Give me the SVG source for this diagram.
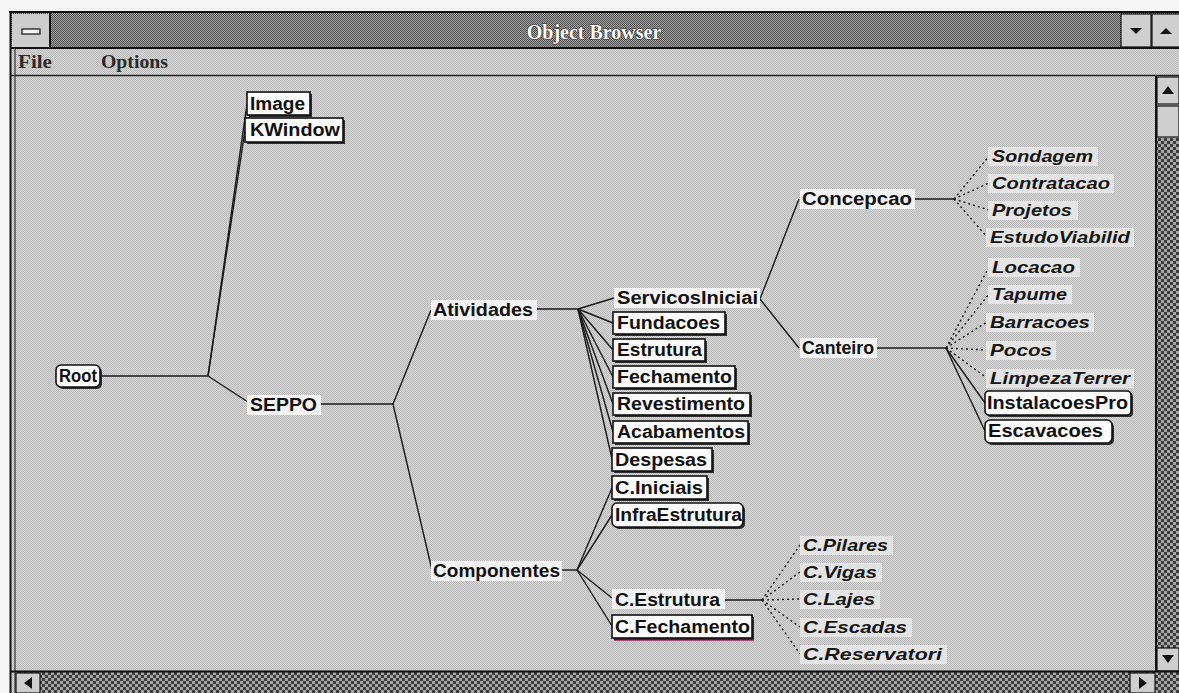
<svg xmlns="http://www.w3.org/2000/svg" width="1179" height="693" viewBox="0 0 1179 693">
  <defs>
    <!-- dithered greys of the window surfaces -->
    <pattern id="ditherLight" width="2" height="2" patternUnits="userSpaceOnUse">
      <rect width="2" height="2" fill="#d8d8d8"/>
      <rect width="1" height="1" fill="#b9b9b9"/>
      <rect x="1" y="1" width="1" height="1" fill="#b9b9b9"/>
    </pattern>
    <pattern id="ditherTitle" width="2" height="2" patternUnits="userSpaceOnUse">
      <rect width="2" height="2" fill="#a9a9a9"/>
      <rect width="1" height="1" fill="#4a4a4a"/>
      <rect x="1" y="1" width="1" height="1" fill="#4a4a4a"/>
    </pattern>
    <pattern id="ditherTrack" width="6" height="6" patternUnits="userSpaceOnUse">
      <rect width="6" height="6" fill="#a6a6a6"/>
      <rect width="3" height="3" fill="#3c3c3c"/>
      <rect x="3" y="3" width="3" height="3" fill="#3c3c3c"/>
    </pattern>
    <style>
      .lbl { font-family: "Liberation Sans", Arial, sans-serif; font-weight: bold; font-size: 18px; fill: #111; }
      .leaf { font-family: "Liberation Sans", Arial, sans-serif; font-weight: bold; font-style: italic; font-size: 17px; fill: #151515; }
      .menu { font-family: "Liberation Serif", "Times New Roman", serif; font-weight: bold; font-size: 19px; fill: #2a2a2a; }
      .title { font-family: "Liberation Serif", "Times New Roman", serif; font-weight: bold; font-size: 20px; fill: #ffffff; stroke: #303030; stroke-width: 1.2; paint-order: stroke; }
      .box { fill: #fbfbfb; stroke: #111; stroke-width: 1.6; }
      .shadow { fill: #2e2e2e; }
      .hl { fill: #f3f3f3; }
      .hli { fill: #e4e4e4; }
      .ln { stroke: #1a1a1a; stroke-width: 1.4; fill: none; }
      .dl { stroke: #1a1a1a; stroke-width: 1.4; fill: none; stroke-dasharray: 2 3; }
      .btn { fill: #cfcfcf; stroke: #111; stroke-width: 1.2; }
      .edge { stroke: #111; stroke-width: 2; fill: none; }
    </style>
  </defs>

  <!-- desktop behind the window -->
  <rect width="1179" height="693" fill="#f6f6f6"/>

  <!-- window frame and chrome -->
  <g id="window">
    <rect x="10" y="12" width="1169" height="681" fill="url(#ditherLight)"/>
    <!-- title bar -->
    <rect x="10" y="12" width="1169" height="36" fill="url(#ditherTitle)"/>
    <line x1="9" y1="12" x2="1179" y2="12" class="edge"/>
    <line x1="10" y1="48" x2="1179" y2="48" class="edge"/>
    <!-- system menu box -->
    <rect x="12" y="14" width="38" height="33" fill="#cdcdcd"/>
    <line x1="50" y1="13" x2="50" y2="48" class="edge"/>
    <rect x="22" y="29" width="18" height="5" fill="#f4f4f4" stroke="#111" stroke-width="1.2"/>
    <text x="594" y="39" text-anchor="middle" class="title">Object Browser</text>
    <!-- minimise / maximise buttons -->
    <rect x="1121" y="14" width="30" height="33" class="btn"/>
    <rect x="1152" y="14" width="28" height="33" class="btn"/>
    <polygon points="1130,28 1142,28 1136,34" fill="#111"/>
    <polygon points="1160,34 1172,34 1166,28" fill="#111"/>
    <!-- menu bar -->
    <text x="18" y="68" class="menu" textLength="34" lengthAdjust="spacingAndGlyphs">File</text>
    <text x="101" y="68" class="menu" textLength="67" lengthAdjust="spacingAndGlyphs">Options</text>
    <line x1="10" y1="75.5" x2="1179" y2="75.5" stroke="#222" stroke-width="1.5"/>
    <!-- left double border -->
    <line x1="10.5" y1="12" x2="10.5" y2="693" class="edge"/>
    <line x1="15" y1="48" x2="15" y2="693" stroke="#333" stroke-width="1.2"/>
    <!-- vertical scroll bar -->
    <rect x="1156" y="138" width="23" height="510" fill="url(#ditherTrack)"/>
    <line x1="1156" y1="76" x2="1156" y2="693" class="edge"/>
    <rect x="1157" y="77" width="22" height="27" class="btn"/>
    <polygon points="1162,94 1174,94 1168,86" fill="#111"/>
    <rect x="1157" y="106" width="22" height="31" class="btn"/>
    <rect x="1157" y="648" width="22" height="23" class="btn"/>
    <polygon points="1162,655 1174,655 1168,663" fill="#111"/>
    <!-- horizontal scroll bar -->
    <rect x="16" y="672" width="1163" height="21" fill="url(#ditherTrack)"/>
    <line x1="10" y1="671.5" x2="1179" y2="671.5" class="edge"/>
    <rect x="16" y="673" width="24" height="20" class="btn"/>
    <polygon points="24,683 32,677 32,689" fill="#111"/>
    <rect x="1130" y="673" width="25" height="20" class="btn"/>
    <polygon points="1147,683 1139,677 1139,689" fill="#111"/>
  </g>

  <!-- tree connectors -->
  <g id="connectors">
    <line x1="100" y1="376" x2="208" y2="376" class="ln"/>
    <line x1="208" y1="376" x2="247" y2="104" class="ln"/>
    <line x1="208" y1="376" x2="245" y2="130" class="ln"/>
    <line x1="208" y1="376" x2="248" y2="402" class="ln"/>
    <line x1="321" y1="404" x2="393" y2="404" class="ln"/>
    <line x1="393" y1="404" x2="431" y2="310" class="ln"/>
    <line x1="393" y1="404" x2="432" y2="570" class="ln"/>
    <!-- Atividades fan -->
    <line x1="537" y1="309" x2="578" y2="309" class="ln"/>
    <line x1="578" y1="309" x2="614" y2="298" class="ln"/>
    <line x1="578" y1="309" x2="613" y2="323" class="ln"/>
    <line x1="578" y1="309" x2="613" y2="350" class="ln"/>
    <line x1="578" y1="309" x2="613" y2="377" class="ln"/>
    <line x1="578" y1="309" x2="613" y2="404" class="ln"/>
    <line x1="578" y1="309" x2="613" y2="432" class="ln"/>
    <line x1="578" y1="309" x2="612" y2="459" class="ln"/>
    <!-- ServicosIniciai branches -->
    <line x1="760" y1="299" x2="799" y2="199" class="ln"/>
    <line x1="760" y1="299" x2="799" y2="348" class="ln"/>
    <line x1="915" y1="199" x2="954" y2="199" class="ln"/>
    <line x1="954" y1="199" x2="989" y2="156" class="dl"/>
    <line x1="954" y1="199" x2="989" y2="183" class="dl"/>
    <line x1="954" y1="199" x2="989" y2="210" class="dl"/>
    <line x1="954" y1="199" x2="987" y2="237" class="dl"/>
    <line x1="877" y1="348" x2="946" y2="348" class="ln"/>
    <line x1="946" y1="348" x2="989" y2="267" class="dl"/>
    <line x1="946" y1="348" x2="989" y2="294" class="dl"/>
    <line x1="946" y1="348" x2="987" y2="322" class="dl"/>
    <line x1="946" y1="348" x2="987" y2="350" class="dl"/>
    <line x1="946" y1="348" x2="987" y2="378" class="dl"/>
    <line x1="946" y1="348" x2="985" y2="403" class="ln"/>
    <line x1="946" y1="348" x2="985" y2="431" class="ln"/>
    <!-- Componentes fan -->
    <line x1="562" y1="570" x2="577" y2="570" class="ln"/>
    <line x1="577" y1="570" x2="612" y2="488" class="ln"/>
    <line x1="577" y1="570" x2="612" y2="515" class="ln"/>
    <line x1="577" y1="570" x2="612" y2="598" class="ln"/>
    <line x1="577" y1="570" x2="612" y2="626" class="ln"/>
    <line x1="725" y1="600" x2="762" y2="600" class="ln"/>
    <line x1="762" y1="600" x2="800" y2="545" class="dl"/>
    <line x1="762" y1="600" x2="800" y2="572" class="dl"/>
    <line x1="762" y1="600" x2="800" y2="599" class="dl"/>
    <line x1="762" y1="600" x2="800" y2="627" class="dl"/>
    <line x1="762" y1="600" x2="800" y2="654" class="dl"/>
  </g>

  <!-- boxed class nodes -->
  <g id="node-root"><rect x="58" y="367" width="44" height="22" rx="5" class="shadow"/><rect x="56" y="365" width="44" height="22" rx="5" class="box"/><text x="59" y="382" class="lbl" textLength="38" lengthAdjust="spacingAndGlyphs">Root</text></g>
  <g id="node-image"><rect x="249" y="94" width="63" height="23" class="shadow"/><rect x="247" y="92" width="63" height="23" class="box"/><text x="250" y="110" class="lbl" textLength="55" lengthAdjust="spacingAndGlyphs">Image</text></g>
  <g id="node-kwindow"><rect x="247" y="120" width="98" height="24" class="shadow"/><rect x="245" y="118" width="98" height="24" class="box"/><text x="250" y="136" class="lbl" textLength="90" lengthAdjust="spacingAndGlyphs">KWindow</text></g>

  <!-- highlighted plain nodes -->
  <g id="node-seppo"><rect x="247" y="395" width="74" height="20" class="hl"/><text x="250" y="411" class="lbl" textLength="67" lengthAdjust="spacingAndGlyphs">SEPPO</text></g>
  <g id="node-atividades"><rect x="431" y="300" width="106" height="20" class="hl"/><text x="433" y="316" class="lbl" textLength="100" lengthAdjust="spacingAndGlyphs">Atividades</text></g>
  <g id="node-componentes"><rect x="431" y="561" width="131" height="20" class="hl"/><text x="433" y="577" class="lbl" textLength="127" lengthAdjust="spacingAndGlyphs">Componentes</text></g>
  <g id="node-servicosiniciai"><rect x="614" y="288" width="146" height="20" class="hl"/><text x="617" y="304" class="lbl" textLength="141" lengthAdjust="spacingAndGlyphs">ServicosIniciai</text></g>
  <g id="node-concepcao"><rect x="800" y="189" width="115" height="20" class="hl"/><text x="802" y="205" class="lbl" textLength="110" lengthAdjust="spacingAndGlyphs">Concepcao</text></g>
  <g id="node-canteiro"><rect x="800" y="338" width="77" height="20" class="hl"/><text x="802" y="354" class="lbl" textLength="72" lengthAdjust="spacingAndGlyphs">Canteiro</text></g>
  <g id="node-cestrutura"><rect x="612" y="589" width="113" height="20" class="hl"/><text x="615" y="606" class="lbl" textLength="105" lengthAdjust="spacingAndGlyphs">C.Estrutura</text></g>

  <!-- Atividades children -->
  <g id="node-fundacoes"><rect x="615" y="314" width="112" height="22" class="shadow"/><rect x="613" y="312" width="112" height="22" class="box"/><text x="617" y="329" class="lbl" textLength="103" lengthAdjust="spacingAndGlyphs">Fundacoes</text></g>
  <g id="node-estrutura"><rect x="615" y="341" width="92" height="22" class="shadow"/><rect x="613" y="339" width="92" height="22" class="box"/><text x="617" y="356" class="lbl" textLength="85" lengthAdjust="spacingAndGlyphs">Estrutura</text></g>
  <g id="node-fechamento"><rect x="615" y="368" width="122" height="22" class="shadow"/><rect x="613" y="366" width="122" height="22" class="box"/><text x="617" y="383" class="lbl" textLength="115" lengthAdjust="spacingAndGlyphs">Fechamento</text></g>
  <g id="node-revestimento"><rect x="615" y="395" width="137" height="22" class="shadow"/><rect x="613" y="393" width="137" height="22" class="box"/><text x="617" y="410" class="lbl" textLength="128" lengthAdjust="spacingAndGlyphs">Revestimento</text></g>
  <g id="node-acabamentos"><rect x="615" y="423" width="135" height="22" class="shadow"/><rect x="613" y="421" width="135" height="22" class="box"/><text x="617" y="438" class="lbl" textLength="128" lengthAdjust="spacingAndGlyphs">Acabamentos</text></g>
  <g id="node-despesas"><rect x="614" y="450" width="100" height="23" class="shadow"/><rect x="612" y="448" width="100" height="23" class="box"/><text x="615" y="466" class="lbl" textLength="92" lengthAdjust="spacingAndGlyphs">Despesas</text></g>

  <!-- Componentes children -->
  <g id="node-ciniciais"><rect x="614" y="478" width="95" height="23" class="shadow"/><rect x="612" y="476" width="95" height="23" class="box"/><text x="615" y="494" class="lbl" textLength="88" lengthAdjust="spacingAndGlyphs">C.Iniciais</text></g>
  <g id="node-infraestrutura"><rect x="614" y="505" width="131" height="24" rx="5" class="shadow"/><rect x="612" y="503" width="131" height="24" rx="5" class="box"/><text x="615" y="521" class="lbl" textLength="127" lengthAdjust="spacingAndGlyphs">InfraEstrutura</text></g>
  <g id="node-cfechamento"><rect x="614" y="617" width="140" height="23" class="shadow"/><rect x="612" y="615" width="140" height="23" class="box"/><line x1="614" y1="640.5" x2="754" y2="640.5" stroke="#b84a78" stroke-width="1.2"/><text x="615" y="633" class="lbl" textLength="135" lengthAdjust="spacingAndGlyphs">C.Fechamento</text></g>

  <!-- Canteiro boxed children -->
  <g id="node-instalacoespro"><rect x="987" y="393" width="146" height="24" rx="4" class="shadow"/><rect x="985" y="391" width="146" height="24" rx="4" class="box"/><text x="987" y="409" class="lbl" textLength="141" lengthAdjust="spacingAndGlyphs">InstalacoesPro</text></g>
  <g id="node-escavacoes"><rect x="987" y="422" width="127" height="23" rx="5" class="shadow"/><rect x="985" y="420" width="127" height="23" rx="5" class="box"/><text x="988" y="437" class="lbl" textLength="115" lengthAdjust="spacingAndGlyphs">Escavacoes</text></g>

  <!-- instance leaves (italic) -->
  <g id="node-sondagem"><rect x="988" y="147" width="110" height="19" class="hli"/><text x="992" y="162" class="leaf" textLength="101" lengthAdjust="spacingAndGlyphs">Sondagem</text></g>
  <g id="node-contratacao"><rect x="988" y="174" width="126" height="19" class="hli"/><text x="992" y="189" class="leaf" textLength="118" lengthAdjust="spacingAndGlyphs">Contratacao</text></g>
  <g id="node-projetos"><rect x="988" y="201" width="90" height="19" class="hli"/><text x="992" y="216" class="leaf" textLength="80" lengthAdjust="spacingAndGlyphs">Projetos</text></g>
  <g id="node-estudoviabilid"><rect x="986" y="228" width="148" height="19" class="hli"/><text x="990" y="243" class="leaf" textLength="140" lengthAdjust="spacingAndGlyphs">EstudoViabilid</text></g>
  <g id="node-locacao"><rect x="988" y="258" width="92" height="19" class="hli"/><text x="992" y="273" class="leaf" textLength="83" lengthAdjust="spacingAndGlyphs">Locacao</text></g>
  <g id="node-tapume"><rect x="988" y="285" width="84" height="19" class="hli"/><text x="992" y="300" class="leaf" textLength="75" lengthAdjust="spacingAndGlyphs">Tapume</text></g>
  <g id="node-barracoes"><rect x="986" y="313" width="108" height="19" class="hli"/><text x="990" y="328" class="leaf" textLength="100" lengthAdjust="spacingAndGlyphs">Barracoes</text></g>
  <g id="node-pocos"><rect x="986" y="341" width="70" height="19" class="hli"/><text x="990" y="356" class="leaf" textLength="62" lengthAdjust="spacingAndGlyphs">Pocos</text></g>
  <g id="node-limpezaterrer"><rect x="986" y="369" width="148" height="19" class="hli"/><text x="990" y="384" class="leaf" textLength="140" lengthAdjust="spacingAndGlyphs">LimpezaTerrer</text></g>
  <g id="node-cpilares"><rect x="800" y="536" width="93" height="19" class="hli"/><text x="803" y="551" class="leaf" textLength="85" lengthAdjust="spacingAndGlyphs">C.Pilares</text></g>
  <g id="node-cvigas"><rect x="800" y="563" width="82" height="19" class="hli"/><text x="803" y="578" class="leaf" textLength="74" lengthAdjust="spacingAndGlyphs">C.Vigas</text></g>
  <g id="node-clajes"><rect x="800" y="590" width="80" height="19" class="hli"/><text x="803" y="605" class="leaf" textLength="72" lengthAdjust="spacingAndGlyphs">C.Lajes</text></g>
  <g id="node-cescadas"><rect x="800" y="618" width="112" height="19" class="hli"/><text x="803" y="633" class="leaf" textLength="104" lengthAdjust="spacingAndGlyphs">C.Escadas</text></g>
  <g id="node-creservatori"><rect x="800" y="645" width="147" height="19" class="hli"/><text x="803" y="660" class="leaf" textLength="139" lengthAdjust="spacingAndGlyphs">C.Reservatori</text></g>
</svg>
